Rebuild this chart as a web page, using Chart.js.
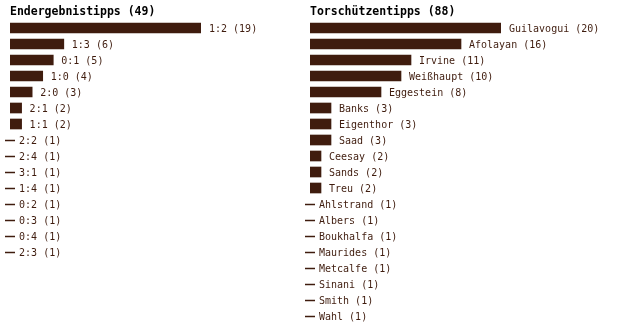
<!DOCTYPE html>
<html>
<head>
<meta charset="utf-8">
<script src="https://cdn.jsdelivr.net/npm/chart.js@4/dist/chart.umd.min.js"></script>
<style>
  body { margin: 0; background: #fff; }
  #wrap { position: relative; width: 620px; height: 336px; }
  canvas { position: absolute; top: 0; }
</style>
</head>
<body>
<div id="wrap">
  <canvas id="left" width="300" height="336" style="left:0"></canvas>
  <canvas id="right" width="320" height="336" style="left:300px"></canvas>
</div>
<script>
const leftTitle = 'Endergebnistipps (49)';
const leftLabels = ['1:2','1:3','0:1','1:0','2:0','2:1','1:1','2:2','2:4','3:1','1:4','0:2','0:3','0:4','2:3'];
const leftValues = [19,6,5,4,3,2,2,1,1,1,1,1,1,1,1];

const rightTitle = 'Torschützentipps (88)';
const rightLabels = ['Guilavogui','Afolayan','Irvine','Weißhaupt','Eggestein','Banks','Eigenthor','Saad','Ceesay','Sands','Treu','Ahlstrand','Albers','Boukhalfa','Maurides','Metcalfe','Sinani','Smith','Wahl'];
const rightValues = [20,16,11,10,8,3,3,3,2,2,2,1,1,1,1,1,1,1,1];

const barColor = '#3f1c0e';
const textColor = '#3f1c0e';
const mono = '"DejaVu Sans Mono", monospace';

// draws title, value labels and the little dash for single votes
const labelPlugin = {
  id: 'barLabels',
  afterDatasetsDraw(chart, args, opts) {
    const ctx = chart.ctx;
    const meta = chart.getDatasetMeta(0);
    const values = chart.data.datasets[0].data;
    const x0 = chart.chartArea.left;
    ctx.save();
    ctx.fillStyle = '#000';
    ctx.font = 'bold 11.5px ' + mono;
    ctx.textBaseline = 'alphabetic';
    ctx.fillText(opts.title, x0, 15);

    ctx.font = '10px ' + mono;
    ctx.textBaseline = 'middle';
    meta.data.forEach((bar, i) => {
      const v = values[i];
      if (v === 1) {
        ctx.strokeStyle = textColor;
        ctx.lineWidth = 1.5;
        ctx.beginPath();
        ctx.moveTo(x0 - 5, Math.round(bar.y) + 0.5);
        ctx.lineTo(x0 + 5, Math.round(bar.y) + 0.5);
        ctx.stroke();
      }
      ctx.fillStyle = textColor;
      ctx.fillText(chart.data.labels[i] + ' (' + v + ')', bar.x + 8, bar.y + 1);
    });
    ctx.restore();
  }
};

function makeChart(id, title, labels, values, canvasW, canvasH) {
  const maxVal = Math.max(...values);
  new Chart(document.getElementById(id), {
    type: 'bar',
    data: {
      labels: labels,
      datasets: [{
        data: values,
        backgroundColor: values.map(v => v === 1 ? 'rgba(0,0,0,0)' : barColor),
        barThickness: 10,
        borderWidth: 0
      }]
    },
    options: {
      indexAxis: 'y',
      responsive: false,
      animation: false,
      layout: {
        padding: { left: 10, top: 20, right: canvasW - 201, bottom: canvasH - 20 - labels.length * 16 }
      },
      scales: {
        x: { type: 'linear', min: 0.9, max: maxVal, display: false },
        y: { display: false }
      },
      plugins: {
        legend: { display: false },
        tooltip: { enabled: false },
        barLabels: { title: title }
      }
    },
    plugins: [labelPlugin]
  });
}

makeChart('left', leftTitle, leftLabels, leftValues, 300, 336);
makeChart('right', rightTitle, rightLabels, rightValues, 320, 336);
</script>
</body>
</html>
